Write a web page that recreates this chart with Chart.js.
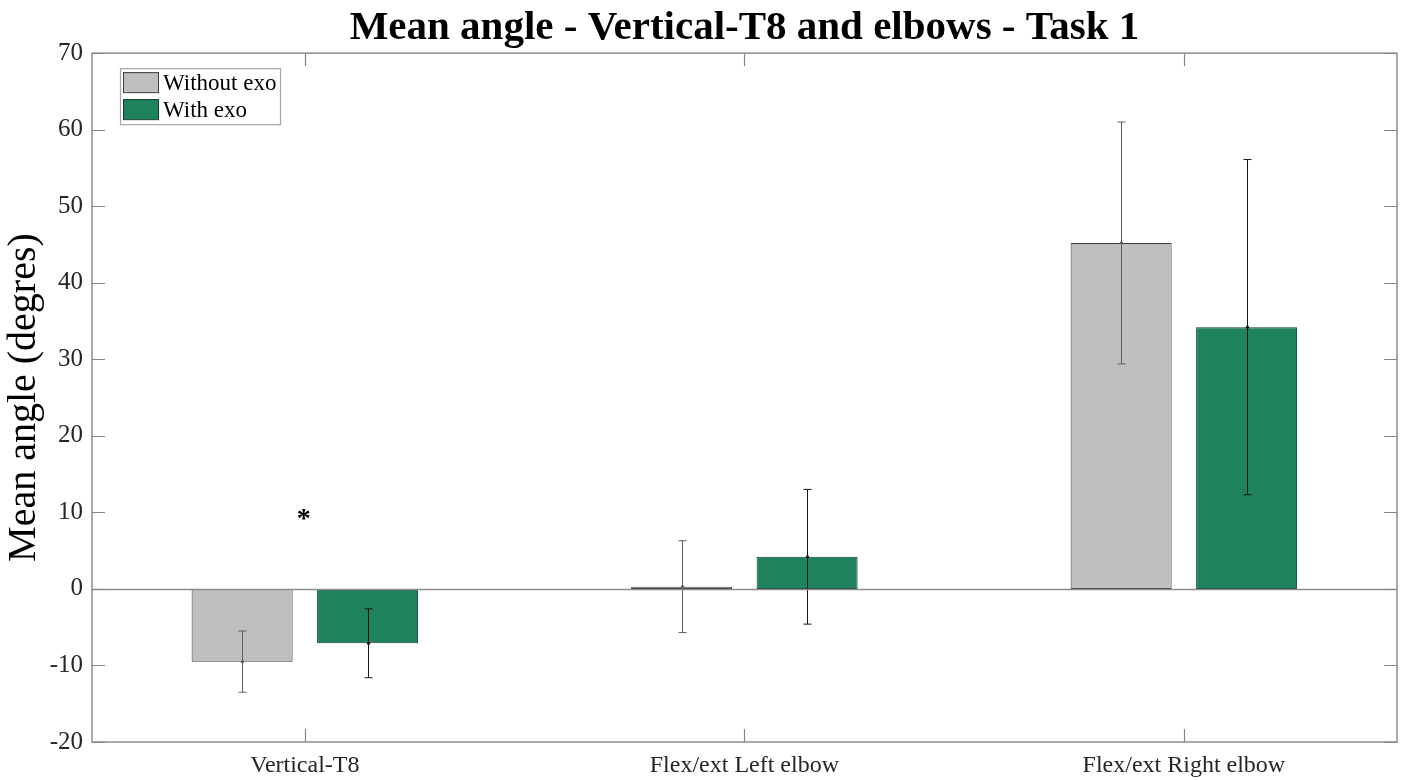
<!DOCTYPE html>
<html>
<head>
<meta charset="utf-8">
<title>Mean angle - Vertical-T8 and elbows - Task 1</title>
<script src="https://cdn.jsdelivr.net/npm/chart.js@4.4.1/dist/chart.umd.min.js"></script>
<style>
  html, body { margin: 0; padding: 0; background: #ffffff; }
  #wrap { width: 1404px; height: 780px; }
</style>
</head>
<body>
<div id="wrap"><canvas id="chart" width="1404" height="780"></canvas></div>
<script>
// Joint categories (x positions 1, 2, 3)
const categories = ['Vertical-T8', 'Flex/ext Left elbow', 'Flex/ext Right elbow'];

// Mean angle (degrees) per condition
const meanWithoutExo = [-9.5, 0.3, 45.2];
const meanWithExo = [-7.1, 4.2, 34.2];

// Standard deviation (degrees) per condition
const sdWithoutExo = [4.0, 6.0, 15.8];
const sdWithExo = [4.5, 8.8, 21.9];

// Significance markers per category
const significance = ['*', '', ''];

// Y axis ticks
const yTicks = [-20, -10, 0, 10, 20, 30, 40, 50, 60, 70];

const serif = '"Liberation Serif", "Times New Roman", serif';
const axisGray = '#858585';

function toPoints(values) {
  return values.map((v, i) => ({ x: i + 1, y: v }));
}

// White page background
const backgroundPlugin = {
  id: 'background',
  beforeDraw(chart) {
    const ctx = chart.ctx;
    ctx.save();
    ctx.fillStyle = '#ffffff';
    ctx.fillRect(0, 0, chart.width, chart.height);
    ctx.restore();
  }
};

// Error bars with caps and a small dot at the mean
const errorBarPlugin = {
  id: 'errorBars',
  afterDatasetsDraw(chart) {
    const ctx = chart.ctx;
    const y = chart.scales.y;
    ctx.save();
    chart.data.datasets.forEach((ds, di) => {
      const meta = chart.getDatasetMeta(di);
      ctx.strokeStyle = ds.errorColor;
      ctx.fillStyle = ds.errorColor;
      ctx.lineWidth = 1;
      meta.data.forEach((bar, i) => {
        const m = ds.data[i].y;
        const s = ds.sd[i];
        const x = Math.round(bar.x) + 0.5;
        const yTop = y.getPixelForValue(m + s);
        const yBot = y.getPixelForValue(m - s);
        ctx.beginPath();
        ctx.moveTo(x, yTop);
        ctx.lineTo(x, yBot);
        ctx.moveTo(x - 4, yTop);
        ctx.lineTo(x + 4, yTop);
        ctx.moveTo(x - 4, yBot);
        ctx.lineTo(x + 4, yBot);
        ctx.stroke();
        ctx.beginPath();
        ctx.arc(x, y.getPixelForValue(m), 1.6, 0, Math.PI * 2);
        ctx.fill();
      });
    });
    ctx.restore();
  }
};

// Axes box, inward ticks, zero baseline, significance markers and legend
const framePlugin = {
  id: 'frame',
  afterDraw(chart) {
    const ctx = chart.ctx;
    const { left, right, top, bottom } = chart.chartArea;
    const xs = chart.scales.x;
    const ys = chart.scales.y;
    const tick = 13;
    ctx.save();

    // zero baseline
    const y0 = Math.round(ys.getPixelForValue(0)) + 0.5;
    ctx.strokeStyle = '#8c8c8c';
    ctx.lineWidth = 1.5;
    ctx.beginPath();
    ctx.moveTo(left, y0);
    ctx.lineTo(right, y0);
    ctx.stroke();

    // box
    ctx.strokeStyle = axisGray;
    ctx.lineWidth = 1.4;
    ctx.strokeRect(left, top, right - left, bottom - top);

    // inward ticks
    ctx.lineWidth = 1.2;
    ctx.beginPath();
    yTicks.forEach(v => {
      const py = Math.round(ys.getPixelForValue(v)) + 0.5;
      ctx.moveTo(left, py); ctx.lineTo(left + tick, py);
      ctx.moveTo(right, py); ctx.lineTo(right - tick, py);
    });
    categories.forEach((c, i) => {
      const px = Math.round(xs.getPixelForValue(i + 1)) + 0.5;
      ctx.moveTo(px, bottom); ctx.lineTo(px, bottom - tick);
      ctx.moveTo(px, top); ctx.lineTo(px, top + tick);
    });
    ctx.stroke();

    // significance markers
    ctx.fillStyle = '#000000';
    ctx.font = 'bold 28px ' + serif;
    ctx.textAlign = 'center';
    ctx.textBaseline = 'middle';
    significance.forEach((s, i) => {
      if (!s) return;
      ctx.fillText(s, xs.getPixelForValue(i + 1) - 1, ys.getPixelForValue(9.1));
    });

    // legend
    const lx = left + 28, ly = top + 15, lw = 160, lh = 56;
    ctx.fillStyle = '#ffffff';
    ctx.fillRect(lx, ly, lw, lh);
    ctx.strokeStyle = '#a6a6a6';
    ctx.lineWidth = 1.2;
    ctx.strokeRect(lx + 0.5, ly + 0.5, lw, lh);
    ctx.font = '23px ' + serif;
    ctx.textAlign = 'left';
    ctx.textBaseline = 'middle';
    chart.data.datasets.forEach((ds, i) => {
      const sy = ly + 4 + i * 27;
      ctx.fillStyle = ds.backgroundColor;
      ctx.fillRect(lx + 3, sy, 35, 20);
      ctx.strokeStyle = ds.borderColor;
      ctx.lineWidth = 1;
      ctx.strokeRect(lx + 3.5, sy + 0.5, 35, 20);
      ctx.fillStyle = '#000000';
      ctx.fillText(ds.label, lx + 43, sy + 12);
    });

    ctx.restore();
  }
};

new Chart(document.getElementById('chart'), {
  type: 'bar',
  data: {
    datasets: [
      {
        label: 'Without exo',
        data: toPoints(meanWithoutExo),
        sd: sdWithoutExo,
        backgroundColor: '#bfbfbf',
        borderColor: '#3c3c3c',
        errorColor: '#5e5e5e',
        borderWidth: 1,
        borderSkipped: false
      },
      {
        label: 'With exo',
        data: toPoints(meanWithExo),
        sd: sdWithExo,
        backgroundColor: '#1e835c',
        borderColor: '#123d2b',
        errorColor: '#151515',
        borderWidth: 1,
        borderSkipped: false
      }
    ]
  },
  options: {
    responsive: false,
    animation: false,
    devicePixelRatio: 1,
    categoryPercentage: 0.571,
    barPercentage: 0.805,
    layout: { padding: { left: 0, right: 7, top: 0, bottom: 0 } },
    plugins: {
      legend: { display: false },
      tooltip: { enabled: false },
      title: {
        display: true,
        fullSize: false,
        text: 'Mean angle - Vertical-T8 and elbows - Task 1',
        color: '#000000',
        font: { family: serif, size: 41, weight: 'bold', lineHeight: 1.15 },
        padding: { top: 5, bottom: 1 }
      }
    },
    scales: {
      x: {
        type: 'linear',
        offset: false,
        min: 0.5157,
        max: 3.4849,
        grid: { display: false, drawTicks: false },
        border: { display: false },
        afterBuildTicks(scale) {
          scale.ticks = categories.map((c, i) => ({ value: i + 1 }));
        },
        afterFit(scale) { scale.height = 38; },
        ticks: {
          autoSkip: false,
          maxRotation: 0,
          padding: 9,
          color: '#262626',
          font: { family: serif, size: 24 },
          callback: (v) => categories[v - 1] || ''
        }
      },
      y: {
        min: -20,
        max: 70,
        grid: { display: false, drawTicks: false },
        border: { display: false },
        afterBuildTicks(scale) {
          scale.ticks = yTicks.map(v => ({ value: v }));
        },
        afterFit(scale) { scale.width = 92; },
        ticks: {
          padding: 9,
          color: '#262626',
          font: { family: serif, size: 25 }
        },
        title: {
          display: true,
          text: 'Mean angle (degres)',
          color: '#000000',
          font: { family: serif, size: 40 },
          padding: { top: 0, bottom: 0 }
        }
      }
    }
  },
  plugins: [backgroundPlugin, errorBarPlugin, framePlugin]
});
</script>
</body>
</html>
